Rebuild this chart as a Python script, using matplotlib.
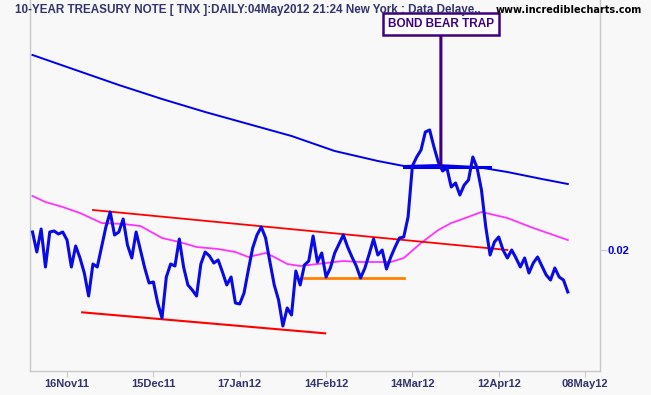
import matplotlib
matplotlib.use("Agg")
import matplotlib.pyplot as plt
from matplotlib.ticker import FixedLocator, FormatStrFormatter

# 10-year yield (percent), one value per trading day from 04Nov11 to 04May12
price = [2.054, 1.994, 2.063, 1.949, 2.054, 2.057, 2.048, 2.054, 2.030, 1.949,
         2.012, 1.976, 1.931, 1.862, 1.958, 1.949, 2.009, 2.069, 2.114, 2.045,
         2.054, 2.093, 2.015, 1.976, 2.054, 2.000, 1.946, 1.901, 1.904, 1.841,
         1.796, 1.919, 1.958, 1.952, 2.033, 1.949, 1.895, 1.880, 1.862, 1.958,
         1.994, 1.982, 1.961, 1.970, 1.934, 1.895, 1.919, 1.841, 1.838, 1.871,
         1.940, 2.006, 2.045, 2.069, 2.036, 1.964, 1.895, 1.850, 1.772, 1.826,
         1.805, 1.937, 1.895, 1.955, 1.967, 2.042, 1.964, 1.991, 1.919, 1.946,
         1.991, 2.018, 2.045, 2.009, 1.979, 1.952, 1.916, 1.946, 1.988, 2.033,
         1.985, 2.000, 1.943, 1.979, 2.009, 2.036, 2.039, 2.099, 2.252, 2.279,
         2.300, 2.354, 2.360, 2.309, 2.264, 2.237, 2.246, 2.189, 2.201, 2.165,
         2.195, 2.210, 2.279, 2.246, 2.180, 2.069, 1.985, 2.024, 2.039, 2.000,
         1.976, 2.000, 1.976, 1.949, 1.976, 1.931, 1.961, 1.979, 1.952, 1.925,
         1.910, 1.946, 1.919, 1.910, 1.874]

# long moving average (blue), read at a few days
long_ma_day = [0, 10, 20, 30, 40, 50, 60, 70, 80, 86, 94, 103, 110, 118, 124]
long_ma = [2.585, 2.540, 2.495, 2.453, 2.414, 2.378, 2.342, 2.297, 2.267,
           2.252, 2.255, 2.249, 2.234, 2.213, 2.198]

# short moving average (magenta)
short_ma_day = [0, 3, 7, 11, 14, 16, 21, 25, 30, 34, 38, 43, 47, 50, 54, 56, 59,
                62, 66, 72, 76, 83, 86, 90, 94, 97, 99, 104, 110, 116, 124]
short_ma = [2.162, 2.144, 2.129, 2.111, 2.093, 2.081, 2.078, 2.072, 2.036, 2.024,
            2.009, 2.003, 1.994, 1.979, 1.991, 1.979, 1.958, 1.952, 1.958, 1.967,
            1.964, 1.964, 1.976, 2.021, 2.060, 2.081, 2.090, 2.114, 2.096, 2.066,
            2.030]

# drawn trend lines (day, yield)
upper_trend = [(14, 2.120), (110, 2.000)]
lower_trend = [(11.5, 1.813), (67.8, 1.750)]
support = [(63, 1.915), (86, 1.915)]
trap_base = [(86, 2.250), (106, 2.250)]

tick_days = [8, 28, 48, 68, 88, 108, 128]
tick_labels = ['16Nov11', '15Dec11', '17Jan12', '14Feb12', '14Mar12', '12Apr12', '08May12']

bg = '#f8f8f8'
navy = '#33336e'
purple = '#3f007f'

fig = plt.figure(figsize=(6.51, 3.95), dpi=100, facecolor=bg)
ax = fig.add_axes([30 / 651, 24 / 395, 570 / 651, 371 / 395])
ax.set_facecolor(bg)

pc = lambda v: [x / 100 for x in v]

ax.plot(long_ma_day, pc(long_ma), color='#0000ee', lw=1.4, zorder=3)
ax.plot(short_ma_day, pc(short_ma), color='#ff33ff', lw=1.3, zorder=3)
for seg, col, w in [(upper_trend, '#ff0000', 1.3), (lower_trend, '#ff0000', 1.5),
                    (support, '#ff8000', 2.0), (trap_base, '#0000ee', 2.2)]:
    xs, ys = zip(*seg)
    ax.plot(xs, pc(ys), color=col, lw=w, zorder=4)
ax.plot(range(len(price)), pc(price), color='#0a0ae6', lw=2.2, zorder=5)

# annotation
ax.annotate('BOND BEAR TRAP', xy=(94.6, 0.02255), xytext=(94.6, 0.02678),
            ha='center', va='center', color=purple, fontsize=8.5, fontweight='bold',
            family='Liberation Sans',
            bbox=dict(boxstyle='square,pad=0.4', fc='white', ec=purple, lw=1.8),
            arrowprops=dict(arrowstyle='-', color=purple, lw=2.2, shrinkA=0, shrinkB=0),
            zorder=6)

ax.set_xlim(-0.58, 131.46)
ax.set_ylim(0.01637, 0.0275)

ax.spines['top'].set_visible(False)
for s in ['left', 'right', 'bottom']:
    ax.spines[s].set_color('#c8c8c8')
    ax.spines[s].set_linewidth(1.0)

ax.xaxis.set_major_locator(FixedLocator(tick_days))
ax.set_xticklabels(tick_labels)
ax.tick_params(axis='x', colors='#c8c8c8', length=4, labelcolor=navy, labelsize=8, pad=2)
for t in ax.get_xticklabels():
    t.set_fontweight('bold')
    t.set_family('Liberation Sans')

ax.yaxis.tick_right()
ax.yaxis.set_major_locator(FixedLocator([0.02]))
ax.yaxis.set_major_formatter(FormatStrFormatter('%.2f'))
ax.tick_params(axis='y', colors='#c8c8c8', length=5, labelcolor='#0000ee', labelsize=8, pad=0.5)
for t in ax.get_yticklabels():
    t.set_fontweight('bold')
    t.set_family('Liberation Sans')

fig.text(15 / 651, 1 - 10 / 395,
         '10-YEAR TREASURY NOTE [ TNX ]:DAILY:04May2012 21:24 New York : Data Delaye..',
         ha='left', va='center', color=navy, fontsize=8.4, fontweight='bold',
         family='Liberation Sans')
fig.text(642 / 651, 1 - 10 / 395, 'www.incrediblecharts.com', ha='right', va='center',
         color='black', fontsize=7, fontweight='bold')

fig.savefig('out.png', dpi=100, facecolor=bg)
